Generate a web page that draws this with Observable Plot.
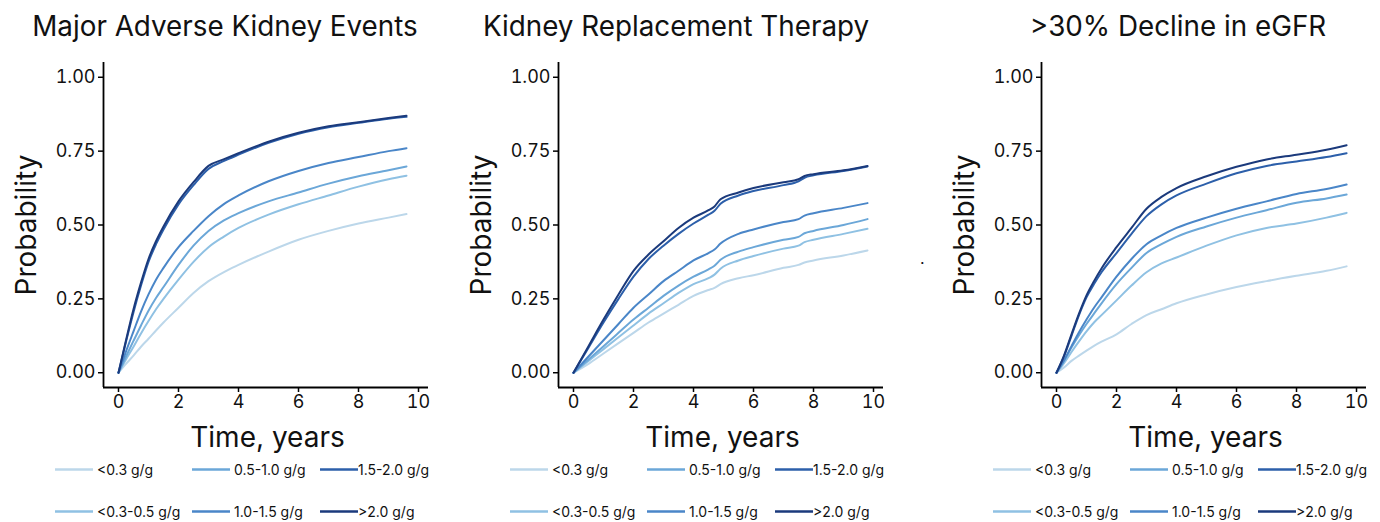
<!DOCTYPE html>
<html>
<head>
<meta charset="utf-8">
<script src="https://cdn.jsdelivr.net/npm/d3@7"></script>
<script src="https://cdn.jsdelivr.net/npm/@observablehq/plot@0.6"></script>
<style>
  html, body { margin: 0; padding: 0; background: #fff; }
  #wrap { position: relative; width: 1380px; height: 522px; font-family: Inter, "Noto Sans", sans-serif; color: #111; overflow: hidden; }
  .title { position: absolute; top: 8px; font-size: 27.8px; white-space: nowrap; transform: translateX(-50%); line-height: 36px; }
  .ylab { position: absolute; font-size: 28px; white-space: nowrap; transform: translate(-50%, -50%) rotate(-90deg); line-height: 32px; }
  .xlab { position: absolute; font-size: 28px; white-space: nowrap; transform: translate(-50%, -50%); line-height: 32px; }
  .panel { position: absolute; top: 50px; }
  .leg { position: absolute; display: flex; align-items: center; font-size: 14px; white-space: nowrap; transform: translateY(-50%); }
  .leg svg { display: block; }
  .dot { position: absolute; font-size: 16px; }
</style>
</head>
<body>
<div id="wrap"></div>
<script>
// ---------- data ----------
const groups = ["<0.3 g/g", "<0.3-0.5 g/g", "0.5-1.0 g/g", "1.0-1.5 g/g", "1.5-2.0 g/g", ">2.0 g/g"];
const colors = ["#bcd7ea", "#8fc1e3", "#6ba7d8", "#4a86c8", "#2c5faa", "#1b3a7c"];
const titles = ["Major Adverse Kidney Events", "Kidney Replacement Therapy", ">30% Decline in eGFR"];
const xTicks = [0, 2, 4, 6, 8, 10];
const yTicks = [0, 0.25, 0.5, 0.75, 1];

// Panel 1: Major Adverse Kidney Events
const makeTime = [0, 0.25, 0.5, 0.75, 1, 1.25, 1.5, 2, 2.5, 3, 3.5, 4, 5, 6, 7, 8, 9, 9.6];
const makeVals = [
  [0, 0.03, 0.058, 0.088, 0.115, 0.143, 0.17, 0.22, 0.27, 0.31, 0.34, 0.365, 0.41, 0.45, 0.48, 0.505, 0.525, 0.537],
  [0, 0.045, 0.088, 0.133, 0.175, 0.215, 0.25, 0.315, 0.375, 0.425, 0.46, 0.49, 0.535, 0.57, 0.6, 0.63, 0.655, 0.667],
  [0, 0.055, 0.108, 0.16, 0.21, 0.253, 0.29, 0.365, 0.43, 0.48, 0.515, 0.54, 0.58, 0.61, 0.64, 0.665, 0.685, 0.698],
  [0, 0.072, 0.14, 0.207, 0.265, 0.315, 0.355, 0.425, 0.48, 0.53, 0.57, 0.6, 0.648, 0.683, 0.71, 0.73, 0.75, 0.76],
  [0, 0.105, 0.205, 0.295, 0.375, 0.435, 0.485, 0.57, 0.635, 0.69, 0.716, 0.738, 0.778, 0.809, 0.831, 0.846, 0.86, 0.866],
  [0, 0.11, 0.215, 0.305, 0.385, 0.445, 0.495, 0.58, 0.645, 0.70, 0.722, 0.743, 0.782, 0.812, 0.834, 0.848, 0.862, 0.87]
];

// Panel 2: Kidney Replacement Therapy
const krtTime = [0, 0.5, 1, 1.5, 2, 2.5, 3, 3.5, 4, 4.5, 4.7, 4.9, 5.5, 6, 7, 7.5, 7.7, 8, 9, 9.8];
const krtVals = [
  [0, 0.03, 0.065, 0.1, 0.135, 0.17, 0.2, 0.23, 0.26, 0.28, 0.287, 0.3, 0.32, 0.33, 0.355, 0.365, 0.373, 0.38, 0.397, 0.414],
  [0, 0.04, 0.08, 0.12, 0.16, 0.2, 0.235, 0.27, 0.3, 0.32, 0.332, 0.352, 0.38, 0.395, 0.42, 0.43, 0.442, 0.45, 0.47, 0.487],
  [0, 0.045, 0.09, 0.135, 0.18, 0.22, 0.26, 0.295, 0.325, 0.35, 0.362, 0.382, 0.41, 0.425, 0.45, 0.46, 0.472, 0.48, 0.5, 0.52],
  [0, 0.055, 0.11, 0.165, 0.22, 0.265, 0.31, 0.345, 0.38, 0.405, 0.417, 0.437, 0.47, 0.485, 0.51, 0.52, 0.532, 0.54, 0.558, 0.574],
  [0, 0.085, 0.17, 0.25, 0.325, 0.385, 0.43, 0.47, 0.505, 0.535, 0.548, 0.572, 0.6, 0.615, 0.635, 0.648, 0.66, 0.668, 0.683, 0.698],
  [0, 0.09, 0.18, 0.265, 0.345, 0.4, 0.445, 0.49, 0.525, 0.55, 0.563, 0.587, 0.61, 0.625, 0.645, 0.655, 0.666, 0.672, 0.685, 0.70]
];

// Panel 3: >30% Decline in eGFR
const egfrTime = [0, 0.25, 0.5, 0.75, 1, 1.25, 1.5, 2, 2.5, 3, 3.5, 4, 5, 6, 7, 8, 9, 9.67];
const egfrVals = [
  [0, 0.018, 0.04, 0.058, 0.075, 0.091, 0.105, 0.13, 0.165, 0.195, 0.215, 0.235, 0.265, 0.29, 0.31, 0.328, 0.345, 0.36],
  [0, 0.032, 0.07, 0.106, 0.14, 0.17, 0.195, 0.245, 0.295, 0.34, 0.37, 0.39, 0.43, 0.465, 0.49, 0.505, 0.525, 0.541],
  [0, 0.04, 0.085, 0.127, 0.165, 0.2, 0.235, 0.30, 0.355, 0.405, 0.435, 0.46, 0.495, 0.525, 0.55, 0.575, 0.59, 0.603],
  [0, 0.042, 0.09, 0.137, 0.18, 0.22, 0.255, 0.325, 0.385, 0.435, 0.465, 0.49, 0.525, 0.555, 0.58, 0.605, 0.622, 0.637],
  [0, 0.055, 0.125, 0.195, 0.255, 0.3, 0.34, 0.405, 0.47, 0.53, 0.57, 0.6, 0.64, 0.675, 0.7, 0.715, 0.73, 0.743],
  [0, 0.058, 0.13, 0.2, 0.262, 0.31, 0.353, 0.425, 0.49, 0.555, 0.595, 0.625, 0.665, 0.697, 0.722, 0.738, 0.755, 0.77]
];

// ---------- build ----------
function toRows(time, vals) {
  const rows = [];
  vals.forEach((series, gi) => series.forEach((p, i) => rows.push({g: groups[gi], t: time[i], p})));
  return rows;
}
const datasets = [toRows(makeTime, makeVals), toRows(krtTime, krtVals), toRows(egfrTime, egfrVals)];

const panelLeft = [0, 455, 938];
const titleCenter = [225, 676, 1178];
const W = 455, H = 405, ML = 103, MR = 27, MT = 12, MB = 68;
const xDomain = [-0.5, 10.333], yDomain = [-0.05, 1.05];

const wrap = document.getElementById("wrap");

datasets.forEach((data, i) => {
  const left = panelLeft[i];
  const fl = left + ML;
  const fr = left + W - MR;

  const t = document.createElement("div");
  t.className = "title"; t.textContent = titles[i];
  t.style.left = titleCenter[i] + "px";
  wrap.appendChild(t);

  const chart = Plot.plot({
    width: W, height: H,
    marginLeft: ML, marginRight: MR, marginTop: MT, marginBottom: MB,
    x: {domain: xDomain},
    y: {domain: yDomain},
    color: {domain: groups, range: colors},
    style: {fontFamily: "Inter, 'Noto Sans', sans-serif", fontSize: "18px", color: "#111", background: "transparent", overflow: "visible"},
    marks: [
      Plot.line(data, {x: "t", y: "p", z: "g", stroke: "g", strokeWidth: 2, strokeLinejoin: "round", curve: "monotone-x"}),
      Plot.ruleX([xDomain[0]], {stroke: "#000", strokeWidth: 1.8}),
      Plot.ruleY([yDomain[0]], {stroke: "#000", strokeWidth: 1.8}),
      Plot.axisX({ticks: xTicks, tickSize: 5, tickPadding: 3, stroke: "#000", strokeWidth: 1.5, fill: "#111", label: null}),
      Plot.axisY({ticks: yTicks, tickSize: 5, tickPadding: 3, stroke: "#000", strokeWidth: 1.5, fill: "#111", tickFormat: d3.format(".2f"), label: null})
    ]
  });
  chart.classList.add("panel");
  chart.style.left = left + "px";
  wrap.appendChild(chart);

  const yl = document.createElement("div");
  yl.className = "ylab"; yl.textContent = "Probability";
  yl.style.left = (fl - 77) + "px"; yl.style.top = (50 + MT + (H - MT - MB) / 2) + "px";
  wrap.appendChild(yl);

  const xl = document.createElement("div");
  xl.className = "xlab"; xl.textContent = "Time, years";
  xl.style.left = ((fl + fr) / 2 + 2) + "px"; xl.style.top = "437px";
  wrap.appendChild(xl);

  const colX = [-48, 89, 217];
  const rowY = [469, 511];
  groups.forEach((g, gi) => {
    const col = Math.floor(gi / 2), row = gi % 2;
    const item = document.createElement("div");
    item.className = "leg";
    item.style.left = (fl + colX[col]) + "px";
    item.style.top = rowY[row] + "px";
    const gap = col === 2 ? 0 : 4;
    item.innerHTML = `<svg width="38" height="6"><line x1="0" x2="38" y1="3" y2="3" stroke="${colors[gi]}" stroke-width="2.6"/></svg><span style="margin-left:${gap}px">${g.replace("<","&lt;").replace(">","&gt;")}</span>`;
    wrap.appendChild(item);
  });
});

const dot = document.createElement("div");
dot.className = "dot"; dot.textContent = ".";
dot.style.left = "920px"; dot.style.top = "248px";
wrap.appendChild(dot);
</script>
</body>
</html>
